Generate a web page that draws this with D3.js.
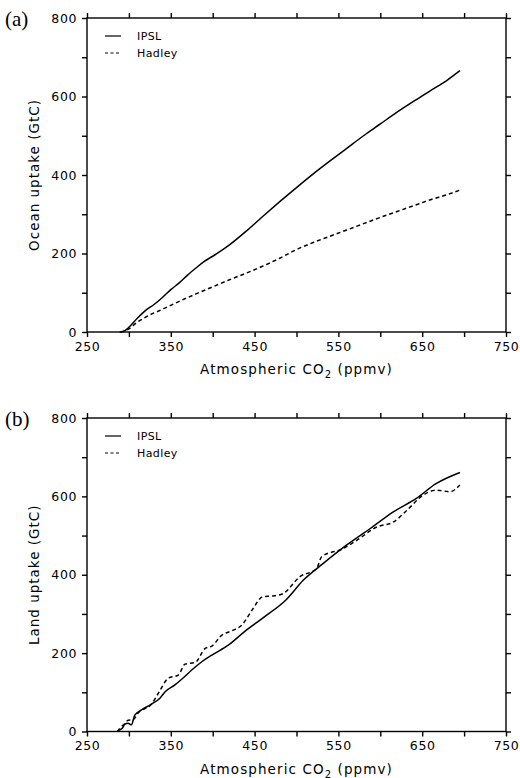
<!DOCTYPE html>
<html lang="en">
<head>
  <meta charset="UTF-8">
  <title>Ocean and land uptake vs CO2</title>
  <style>
    body { margin: 0; background: #fff; }
    text { font-family: 'DejaVu Sans', sans-serif; }
  </style>
</head>
<body>
  <svg id="svg" width="520" height="778"></svg>

  <script src="https://d3js.org/d3.v7.min.js"></script>
  <script>
    // values: [CO2 ppmv, uptake GtC]
    const oceanIPSL = [[289, 0], [295, 3], [300, 12], [310, 35], [320, 55], [330, 70], [340, 88], [350, 108],
      [360, 125], [370, 145], [380, 163], [390, 180], [400, 193], [420, 222], [440, 257], [460, 295],
      [480, 332], [500, 368], [520, 403], [540, 436], [560, 468], [580, 500], [600, 530], [620, 560],
      [640, 588], [660, 615], [680, 642], [695, 666]]
    const oceanHadley = [[290, 0], [300, 8], [310, 25], [320, 38], [340, 58], [360, 78], [380, 97],
      [400, 115], [420, 133], [440, 150], [460, 168], [480, 188], [500, 210], [520, 228], [540, 244],
      [560, 260], [580, 276], [600, 292], [620, 307], [640, 322], [660, 337], [680, 350], [697, 363]]
    const landIPSL = [[287, 2], [292, 8], [295, 18], [299, 21], [303, 17], [307, 42], [315, 55], [327, 70],
      [337, 85], [343, 101], [355, 119], [365, 137], [375, 157], [387, 178], [399, 195], [419, 221],
      [438, 255], [462, 293], [488, 337], [508, 386], [532, 429], [560, 476], [588, 518], [616, 561],
      [643, 595], [667, 633], [695, 661]]
    const landHadley = [[286, 0], [290, 10], [295, 20], [299, 29], [305, 30], [311, 47], [327, 70],
      [335, 97], [347, 136], [359, 144], [367, 172], [379, 176], [391, 212], [399, 218], [411, 246],
      [423, 257], [435, 272], [447, 310], [460, 344], [472, 346], [484, 352], [504, 395], [524, 416],
      [530, 446], [556, 467], [572, 488], [596, 522], [616, 535], [632, 565], [651, 603], [667, 616],
      [683, 612], [695, 629]]

    const seriesNames = ['IPSL', 'Hadley']
    const xTicks = [250, 350, 450, 550, 650, 750]
    const yTicks = [0, 200, 400, 600, 800]

    const panels = [
      { tag: '(a)', ylabel: 'Ocean uptake (GtC)', top: 18, bottom: 332, series: [oceanIPSL, oceanHadley] },
      { tag: '(b)', ylabel: 'Land uptake (GtC)', top: 418, bottom: 731.5, series: [landIPSL, landHadley] }
    ]

    const svg = d3.select('#svg')
    const left = 87, right = 506

    panels.forEach(p => {
      const x = d3.scaleLinear().domain([250, 750]).range([left, right])
      const y = d3.scaleLinear().domain([0, 800]).range([p.bottom, p.top])
      const g = svg.append('g')

      // frame with outward ticks on every side
      const allX = d3.range(250, 751, 50)
      const allY = d3.range(0, 801, 100)
      g.append('g').attr('transform', `translate(0,${p.bottom})`)
        .call(d3.axisBottom(x).tickValues(allX).tickSize(5).tickPadding(5)
          .tickFormat(d => xTicks.includes(d) ? d : ''))
      g.append('g').attr('transform', `translate(0,${p.top})`)
        .call(d3.axisTop(x).tickValues(allX).tickSize(5).tickFormat(''))
      g.append('g').attr('transform', `translate(${left},0)`)
        .call(d3.axisLeft(y).tickValues(allY).tickSize(5).tickPadding(5)
          .tickFormat(d => yTicks.includes(d) ? d : ''))
      g.append('g').attr('transform', `translate(${right},0)`)
        .call(d3.axisRight(y).tickValues(allY).tickSize(5).tickFormat(''))

      g.selectAll('.domain').remove()
      g.append('rect')
        .attr('x', left).attr('y', p.top)
        .attr('width', right - left).attr('height', p.bottom - p.top)
        .attr('fill', 'none').attr('stroke', '#000').attr('stroke-width', 1.4)
      g.selectAll('.tick line').attr('stroke-width', 1.4)
      g.selectAll('.tick text')
        .attr('font-size', 12.5)
        .attr('font-family', "'DejaVu Sans', sans-serif")
        .style('letter-spacing', '0.6px')

      const line = d3.line().x(d => x(d[0])).y(d => y(d[1])).curve(d3.curveMonotoneX)
      p.series.forEach((s, i) => {
        g.append('path')
          .datum(s)
          .attr('d', line)
          .attr('fill', 'none')
          .attr('stroke', '#000')
          .attr('stroke-width', 1.5)
          .attr('stroke-dasharray', i === 1 ? '4,3' : null)
      })

      // legend
      seriesNames.forEach((name, i) => {
        const ly = p.top + 18 + i * 17
        g.append('line')
          .attr('x1', 105).attr('x2', 121).attr('y1', ly).attr('y2', ly)
          .attr('stroke', '#000').attr('stroke-width', 1.2)
          .attr('stroke-dasharray', i === 1 ? '3,2.5' : null)
        g.append('text')
          .attr('x', 137).attr('y', ly + 4)
          .attr('font-size', 11)
          .style('letter-spacing', '0.4px')
          .text(name)
      })

      // axis titles
      const xl = g.append('text')
        .attr('x', (left + right) / 2).attr('y', p.bottom + 42)
        .attr('text-anchor', 'middle').attr('font-size', 13.5)
        .style('letter-spacing', '1.1px')
      xl.append('tspan').text('Atmospheric CO')
      xl.append('tspan').attr('dy', 4).attr('font-size', 10).text('2')
      xl.append('tspan').attr('dy', -4).text(' (ppmv)')

      g.append('text')
        .attr('transform', `translate(39,${(p.top + p.bottom) / 2}) rotate(-90)`)
        .attr('text-anchor', 'middle').attr('font-size', 13.5)
        .style('letter-spacing', '1px')
        .text(p.ylabel)

      g.append('text')
        .attr('x', 5).attr('y', p.top + 8)
        .style('font-family', "'Liberation Serif', 'Times New Roman', serif")
        .attr('font-size', 21)
        .text(p.tag)
    })
  </script>
</body>
</html>
